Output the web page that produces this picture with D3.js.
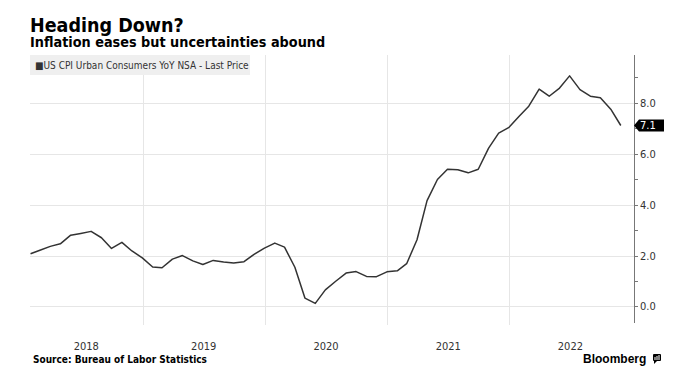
<!DOCTYPE html>
<html>
<head>
<meta charset="utf-8">
<script src="https://cdnjs.cloudflare.com/ajax/libs/d3/7.8.5/d3.min.js"></script>
<style>
  body { margin: 0; background: #fff; }
  svg { display: block; }
</style>
</head>
<body>
<script>
// monthly CPI YoY (%)
var months2018 = [2.07, 2.21, 2.36, 2.46, 2.80, 2.87, 2.95, 2.70, 2.28, 2.52, 2.18, 1.91];
var months2019 = [1.55, 1.52, 1.86, 2.00, 1.79, 1.65, 1.81, 1.75, 1.71, 1.76, 2.05, 2.29];
var months2020 = [2.49, 2.33, 1.54, 0.33, 0.12, 0.65, 0.99, 1.31, 1.37, 1.18, 1.17, 1.36];
var months2021 = [1.40, 1.68, 2.62, 4.16, 4.99, 5.39, 5.37, 5.25, 5.39, 6.22, 6.81, 7.04];
var months2022 = [7.48, 7.87, 8.54, 8.26, 8.58, 9.06, 8.52, 8.26, 8.20, 7.75, 7.11];

var years = [2018, 2019, 2020, 2021, 2022];
var yTicks = [0, 2, 4, 6, 8];
var yMinor = [1, 3, 5, 7, 9];
var lastLabel = "7.1";

var title = "Heading Down?";
var subtitle = "Inflation eases but uncertainties abound";
var legendText = "US CPI Urban Consumers YoY NSA - Last Price";
var sourceText = "Source: Bureau of Labor Statistics";

var width = 680, height = 388;
var FONT = "'DejaVu Sans Condensed','DejaVu Sans',sans-serif";

// build the series, points sit at month end
var series = [];
[months2018, months2019, months2020, months2021, months2022].forEach(function(arr, i) {
  arr.forEach(function(v, m) {
    series.push({ date: new Date(years[i], m + 1, 0), value: v });
  });
});

var svg = d3.select("body").append("svg")
  .attr("width", width)
  .attr("height", height);

// plot box (axis sits on the right)
var plotL = 30, plotR = 634, plotT = 55, plotB = 323;

var x = d3.scaleTime()
  .domain([new Date(2018, 0, 1), new Date(2023, 0, 1)])
  .range([20.5, 631.5]);

var y = d3.scaleLinear()
  .domain([-0.65, 9.88])
  .range([plotB, plotT]);

// horizontal grid
svg.append("g").selectAll("line")
  .data(yTicks)
  .enter().append("line")
  .attr("x1", plotL).attr("x2", plotR)
  .attr("y1", function(d) { return Math.round(y(d)) + 0.5; })
  .attr("y2", function(d) { return Math.round(y(d)) + 0.5; })
  .style("stroke", "#e6e6e6");

// vertical grid at year starts
svg.append("g").selectAll("line")
  .data(years.slice(1))
  .enter().append("line")
  .attr("x1", function(d) { return Math.round(x(new Date(d, 0, 1))) + 0.5; })
  .attr("x2", function(d) { return Math.round(x(new Date(d, 0, 1))) + 0.5; })
  .attr("y1", plotT).attr("y2", plotB + 2)
  .style("stroke", "#e6e6e6");

// legend box
svg.append("rect")
  .attr("x", 30).attr("y", 55)
  .attr("width", 220).attr("height", 20)
  .style("fill", "#efefef");

svg.append("text")
  .attr("x", 35).attr("y", 68.5)
  .style("font-family", FONT)
  .style("font-size", "10px")
  .style("fill", "#333")
  .text("\u25A0" + legendText);

// the line
var line = d3.line()
  .x(function(d) { return x(d.date); })
  .y(function(d) { return y(d.value); });

svg.append("path")
  .datum(series)
  .attr("d", line)
  .style("fill", "none")
  .style("stroke", "#333")
  .style("stroke-width", 1.5)
  .style("stroke-linejoin", "round");

// right axis
svg.append("line")
  .attr("x1", plotR + 0.5).attr("x2", plotR + 0.5)
  .attr("y1", plotT).attr("y2", plotB)
  .style("stroke", "#777");

svg.append("g").selectAll("line")
  .data(yTicks.concat(yMinor))
  .enter().append("line")
  .attr("x1", plotR).attr("x2", plotR + 4)
  .attr("y1", function(d) { return Math.round(y(d)) + 0.5; })
  .attr("y2", function(d) { return Math.round(y(d)) + 0.5; })
  .style("stroke", "#777");

svg.append("g").selectAll("text")
  .data(yTicks)
  .enter().append("text")
  .attr("x", plotR + 6)
  .attr("y", function(d) { return y(d) + 4; })
  .style("font-family", FONT)
  .style("font-size", "11px")
  .style("fill", "#333")
  .text(function(d) { return d3.format(".1f")(d); });

// year labels centred in the visible part of each year
svg.append("g").selectAll("text")
  .data(years)
  .enter().append("text")
  .attr("x", function(d) {
    var a = Math.max(plotL, x(new Date(d, 0, 1)));
    var b = Math.min(plotR, x(new Date(d + 1, 0, 1)));
    return (a + b) / 2;
  })
  .attr("y", 349.5)
  .attr("text-anchor", "middle")
  .style("font-family", FONT)
  .style("font-size", "11px")
  .style("fill", "#333")
  .text(function(d) { return d; });

// last price tag
var last = series[series.length - 1];
var ty = y(last.value);
svg.append("path")
  .attr("d", "M" + plotR + "," + ty + "L" + (plotR + 5) + "," + (ty - 6) +
    "H664V" + (ty + 6) + "H" + (plotR + 5) + "Z")
  .style("fill", "#000");
svg.append("text")
  .attr("x", plotR + 6).attr("y", ty + 4)
  .style("font-family", FONT)
  .style("font-size", "11px")
  .style("fill", "#fff")
  .text(lastLabel);

// titles
svg.append("text")
  .attr("x", 30).attr("y", 32)
  .style("font-family", FONT)
  .style("font-weight", "bold")
  .style("font-size", "19.5px")
  .style("fill", "#000")
  .text(title);

svg.append("text")
  .attr("x", 30).attr("y", 47)
  .style("font-family", FONT)
  .style("font-weight", "bold")
  .style("font-size", "14.3px")
  .style("fill", "#000")
  .text(subtitle);

svg.append("text")
  .attr("x", 33).attr("y", 363)
  .style("font-family", FONT)
  .style("font-weight", "bold")
  .style("font-size", "10px")
  .style("fill", "#000")
  .text(sourceText);

// Bloomberg mark
svg.append("text")
  .attr("x", 583).attr("y", 363)
  .style("font-family", "'Liberation Sans',Arial,sans-serif")
  .style("font-weight", "bold")
  .style("font-size", "12px")
  .style("fill", "#000")
  .text("Bloomberg");

var logo = svg.append("g").attr("transform", "translate(653,354)");
logo.append("rect").attr("width", 8).attr("height", 7).attr("rx", 1).style("fill", "#000");
logo.append("path").attr("d", "M1,7L1,10L4,7Z").style("fill", "#000");
logo.selectAll("rect.bar")
  .data([[2, 3], [4, 2], [6, 1]])
  .enter().append("rect")
  .attr("class", "bar")
  .attr("x", function(d) { return d[0] - 0.5; })
  .attr("y", function(d) { return d[1]; })
  .attr("width", 1)
  .attr("height", function(d) { return 6 - d[1]; })
  .style("fill", "#fff");
</script>
</body>
</html>
